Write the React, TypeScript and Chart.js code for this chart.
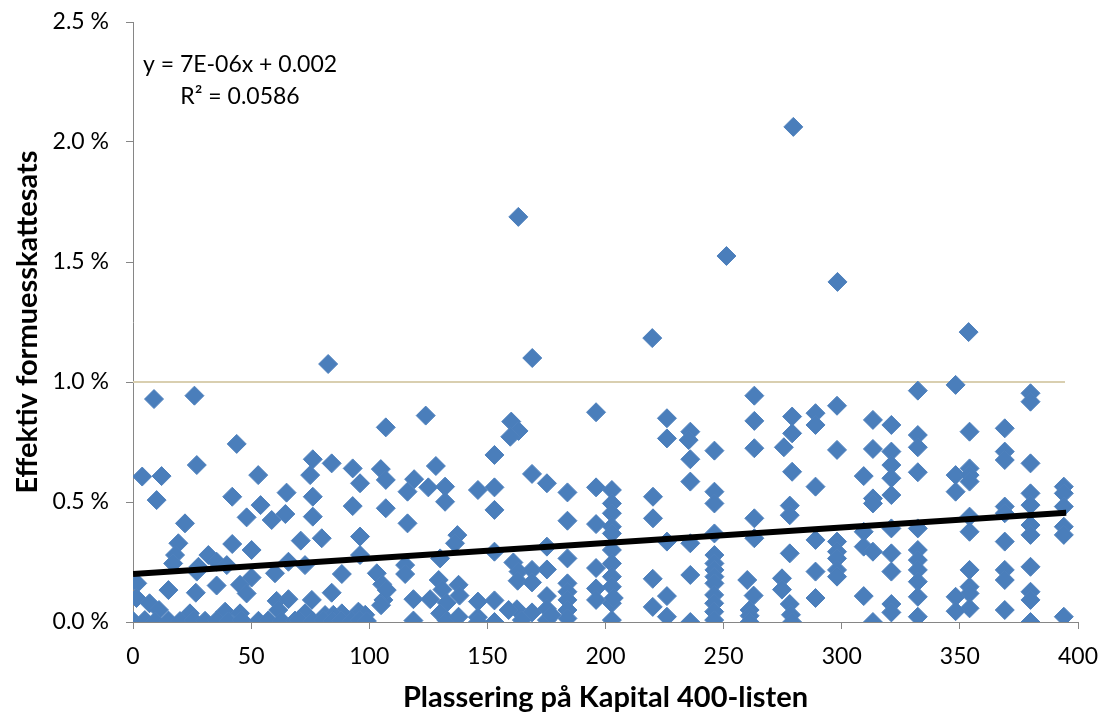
import React, { useEffect, useRef } from 'react';
import { Chart, registerables } from 'chart.js';

Chart.register(...registerables);

// Placement on the Kapital 400 list (x) and effective wealth tax rate in % (y)
const rank: number[] = [
  // 0-70
  8.9, 26, 43.9, 27, 3.9, 12.1, 53, 10, 42, 54, 65, 48.1, 58.7, 64.5, 22, 19.2, 17.8, 17, 42, 50.2, 31.9, 27.7, 35.4, 39.7, 27, 65.8, 60.1, 50.2,
  1.8, 15, 26.6, 35.4, 45.3, 48.1, 1.5, 7, 11, 24.1, 39, 45.3, 60.8, 65.8, 61.5,
  0, 5, 9.3, 15, 19.9, 25.5, 30.5, 35.4, 40.3, 46, 53.1, 57.3, 63, 68.6,
  // 70-137
  82.6, 123.9, 107, 76.1, 75, 84.1, 93, 96.1, 104.9, 107, 119, 116.2, 128.2, 125, 132.1, 132.1, 76.1, 76.1, 93, 107, 116.2, 71, 79.9, 96.1, 96.1, 72.8, 88.4, 103.2, 105.5, 115.2, 115.2, 130, 129.4, 131,
  106, 105, 107.4, 118.7, 125.8, 132.8, 84.1, 75.7, 72.8, 81.3, 88.4, 95.4, 84.8, 96.1, 98.3, 130,
  70, 76, 80.5, 84.5, 88, 92.6, 96, 99, 118.7, 132.8,
  // 135-200
  137.3, 136.3, 160.1, 163.2, 159.7, 153, 168.9, 175.2, 146, 153, 153, 183.9, 183.9, 196, 196, 196, 153, 161, 163.2, 168.9, 162.8, 168.9, 175.2, 175.2, 183.9, 183.9, 183.9, 183.9, 183.9, 183.9, 196, 196, 196,
  137.8, 138.2, 146, 153, 162.5, 168.9, 175.2, 175.2, 175.2, 137.8, 146, 146, 153, 159, 177.3, 164.6, 163.1, 169,
  202.7, 202.7, 202.7, 202.7, 202.7, 202.7, 202.7, 202.7, 202.7, 202.7, 202.7, 203.5,
  // 205-280
  219.8, 251.2, 263, 226, 263, 235.9, 226, 235.2, 246.1, 263, 275.5, 235.9, 235.9, 220.1, 246.1, 246.1, 220.1, 263, 263, 278, 278, 226, 235.9, 246.1, 246.1, 246.1, 246.1, 246.1, 246.1, 246, 246, 246, 246,
  220, 235.9, 226, 220, 226, 235.9, 260, 262.7, 261, 261, 261, 274.7, 274.7, 278, 278, 278.5, 279,
  // 279-345
  279.5, 298.2, 332.2, 298, 279, 288.9, 288.9, 313.2, 321, 332.2, 332.2, 279, 298, 313.2, 321, 321, 321, 321, 279, 309.3, 332.2, 288.9, 313.2, 313.2, 309.3, 321, 332.2, 332.2, 332.2, 332.2, 332.2, 332.2, 332.2,
  288.9, 298, 298, 298, 298, 298, 309.3, 313.2, 321, 321, 288.9, 288.9, 309.3, 313.2, 321, 321,
  // 345-400
  353.7, 348.2, 379.9, 379.9, 354.1, 369, 369, 369, 379.9, 348.2, 348.2, 354.1, 354.1, 354.1, 394, 394, 379.9, 379.9, 369, 369, 354.1, 394, 379.9, 379.9, 394, 394, 354.1, 369,
  354.1, 369, 369, 379.9, 379.9, 379.9, 354.1, 354.1, 354.1, 348.2, 348.2, 369, 379.9, 394,
];

const taxRate: number[] = [
  // 0-70
  0.929, 0.943, 0.742, 0.654, 0.606, 0.608, 0.612, 0.508, 0.522, 0.487, 0.539, 0.436, 0.425, 0.45, 0.411, 0.328, 0.279, 0.244, 0.325, 0.3, 0.279, 0.23, 0.251, 0.237, 0.21, 0.251, 0.203, 0.185,
  0.161, 0.133, 0.122, 0.152, 0.155, 0.119, 0.1, 0.078, 0.05, 0.036, 0.043, 0.036, 0.088, 0.095, 0.05,
  0.005, 0.008, 0.003, 0.006, 0.004, 0.008, 0.005, 0.007, 0.004, 0.008, 0.005, 0.007, 0.004, 0.006,
  // 70-137
  1.075, 0.86, 0.811, 0.678, 0.612, 0.661, 0.64, 0.578, 0.637, 0.592, 0.595, 0.543, 0.65, 0.561, 0.564, 0.501, 0.522, 0.439, 0.483, 0.474, 0.411, 0.339, 0.349, 0.356, 0.279, 0.237, 0.2, 0.203, 0.157, 0.237, 0.2, 0.265, 0.175, 0.135,
  0.092, 0.07, 0.133, 0.095, 0.095, 0.08, 0.122, 0.092, 0.036, 0.029, 0.036, 0.043, 0.03, 0.036, 0.03, 0.036,
  0.008, 0.005, 0.008, 0.004, 0.006, 0.005, 0.008, 0.004, 0.006, 0.006,
  // 135-200
  0.362, 0.328, 0.835, 0.796, 0.772, 0.696, 0.617, 0.578, 0.55, 0.561, 0.467, 0.54, 0.422, 0.874, 0.561, 0.408, 0.293, 0.248, 0.21, 0.217, 0.172, 0.165, 0.314, 0.219, 0.265, 0.161, 0.126, 0.092, 0.05, 0.015, 0.225, 0.14, 0.092,
  0.155, 0.11, 0.085, 0.09, 0.053, 0.04, 0.108, 0.055, 0.008, 0.022, 0.02, 0.0, 0.0, 0.05, 0.029, 0.008, 1.688, 1.1,
  0.55, 0.494, 0.453, 0.397, 0.369, 0.3, 0.244, 0.189, 0.147, 0.078, 0.008, 0.1,
  // 205-280
  1.183, 1.525, 0.943, 0.849, 0.838, 0.793, 0.765, 0.758, 0.714, 0.724, 0.728, 0.678, 0.585, 0.522, 0.543, 0.494, 0.432, 0.432, 0.349, 0.485, 0.445, 0.335, 0.328, 0.369, 0.279, 0.244, 0.217, 0.189, 0.161, 0.113, 0.078, 0.043, 0.008,
  0.18, 0.196, 0.108, 0.063, 0.022, 0.0, 0.175, 0.11, 0.05, 0.026, 0.0, 0.182, 0.135, 0.286, 0.075, 0.03, 0.0,
  // 279-345
  2.063, 1.417, 0.964, 0.901, 0.856, 0.87, 0.821, 0.842, 0.821, 0.779, 0.728, 0.786, 0.717, 0.721, 0.71, 0.654, 0.599, 0.529, 0.626, 0.608, 0.624, 0.564, 0.515, 0.494, 0.376, 0.39, 0.39, 0.3, 0.258, 0.217, 0.168, 0.105, 0.022,
  0.342, 0.335, 0.293, 0.265, 0.217, 0.189, 0.314, 0.293, 0.286, 0.21, 0.21, 0.1, 0.108, 0.0, 0.075, 0.04,
  // 345-400
  1.208, 0.988, 0.953, 0.918, 0.793, 0.807, 0.71, 0.675, 0.661, 0.612, 0.543, 0.64, 0.612, 0.585, 0.564, 0.536, 0.536, 0.487, 0.481, 0.453, 0.439, 0.481, 0.404, 0.363, 0.397, 0.363, 0.376, 0.335,
  0.217, 0.217, 0.175, 0.23, 0.126, 0.092, 0.147, 0.119, 0.057, 0.105, 0.045, 0.05, 0.0, 0.022,
];

const trendX = [0, 395];
const trendY = [0.2, 0.455];
const refLineX = [0, 394.5];
const refLineY = [1.0, 1.0];
const xTickValues = [0, 50, 100, 150, 200, 250, 300, 350, 400];
const yTickValues = [0, 0.5, 1.0, 1.5, 2.0, 2.5];
const equationLines = ['y = 7E-06x + 0.002', 'R\u00B2 = 0.0586'];
const xTitle = 'Plassering på Kapital 400-listen';
const yTitle = 'Effektiv formuesskattesats';

const FONT = 'Lato, "Open Sans", sans-serif';

const equationPlugin = {
  id: 'equationText',
  afterDatasetsDraw(chart: any) {
    const ctx = chart.ctx;
    ctx.save();
    ctx.font = `23px ${FONT}`;
    ctx.fillStyle = '#000';
    ctx.textAlign = 'center';
    ctx.textBaseline = 'middle';
    ctx.fillText(equationLines[0], 240, 65);
    ctx.fillText(equationLines[1], 240, 97);
    ctx.restore();
  },
};

export default function App() {
  const ref = useRef<HTMLCanvasElement | null>(null);

  useEffect(() => {
    if (!ref.current) return;
    const points = rank.map((x, i) => ({ x, y: taxRate[i] }));
    const chart = new Chart(ref.current, {
      type: 'scatter',
      data: {
        datasets: [
          {
            label: 'trend',
            type: 'line',
            data: trendX.map((x, i) => ({ x, y: trendY[i] })),
            borderColor: '#000',
            borderWidth: 6,
            pointRadius: 0,
            order: 0,
          } as any,
          {
            label: 'sats',
            data: points,
            pointStyle: 'rectRot',
            pointRadius: 9.5,
            pointBorderWidth: 1,
            backgroundColor: '#4A7EBB',
            borderColor: '#4F81BD',
            order: 1,
          },
          {
            label: 'ref',
            type: 'line',
            data: refLineX.map((x, i) => ({ x, y: refLineY[i] })),
            borderColor: '#D9CFB0',
            borderWidth: 2,
            pointRadius: 0,
            order: 2,
          } as any,
        ],
      },
      options: {
        animation: false,
        responsive: false,
        layout: { padding: { top: 22, right: 24, left: 0, bottom: 0 } },
        plugins: {
          legend: { display: false },
          tooltip: { enabled: false },
        },
        scales: {
          x: {
            type: 'linear',
            min: 0,
            max: 400,
            afterBuildTicks: (s: any) => {
              s.ticks = xTickValues.map((v) => ({ value: v }));
            },
            afterFit: (s: any) => {
              s.height = 95;
              s.paddingLeft = 0;
              s.paddingRight = 0;
            },
            ticks: {
              font: { family: FONT, size: 23 },
              color: '#000',
              padding: 14,
            },
            grid: {
              display: true,
              drawOnChartArea: false,
              drawTicks: true,
              tickLength: 7,
              color: '#868686',
            },
            border: { color: '#868686', width: 1 },
            title: {
              display: true,
              text: xTitle,
              font: { family: FONT, size: 29, weight: 'bold' },
              color: '#000',
              padding: { top: 0, bottom: 2 },
            },
          },
          y: {
            type: 'linear',
            min: 0,
            max: 2.5,
            afterBuildTicks: (s: any) => {
              s.ticks = yTickValues.map((v) => ({ value: v }));
            },
            afterFit: (s: any) => {
              s.width = 133;
              s.paddingTop = 0;
              s.paddingBottom = 0;
            },
            ticks: {
              font: { family: FONT, size: 23 },
              color: '#000',
              padding: 17,
              callback: (v: any) => Number(v).toFixed(1) + ' %',
            },
            grid: {
              display: true,
              drawOnChartArea: false,
              drawTicks: true,
              tickLength: 7,
              color: '#868686',
            },
            border: { color: '#868686', width: 1 },
            title: {
              display: true,
              text: yTitle,
              font: { family: FONT, size: 29, weight: 'bold' },
              color: '#000',
              padding: { top: 10, bottom: 0 },
            },
          },
        },
      },
      plugins: [equationPlugin],
    });
    return () => chart.destroy();
  }, []);

  return (
    <div style={{ position: 'absolute', left: 0, top: 0, width: 1102, height: 717, background: '#fff' }}>
      <canvas ref={ref} width={1102} height={717} style={{ display: 'block' }} />
    </div>
  );
}
